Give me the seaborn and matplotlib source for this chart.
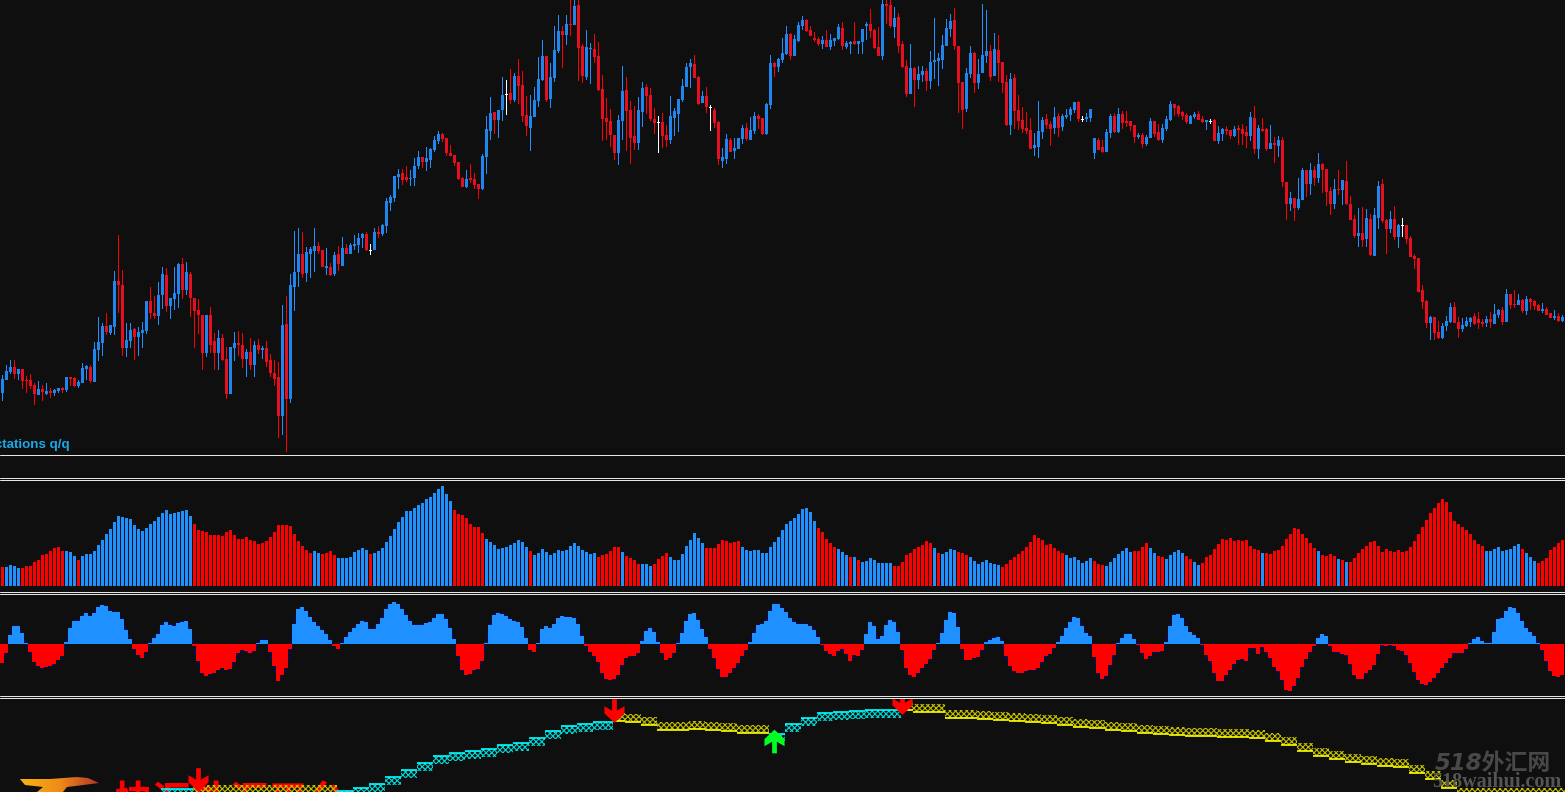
import numpy as np
import pandas as pd
import matplotlib
matplotlib.use("Agg")
import matplotlib.pyplot as plt
import seaborn as sns
from matplotlib.colors import LinearSegmentedColormap
from matplotlib.lines import Line2D
from matplotlib.patches import Polygon
from matplotlib.path import Path

# price levels (the scale runs downward, like the screen)
candle_high = [
    375,365,360,360,369,369,376,374,383,381, 385,383,388,389,388,387,377,377,377,380,
    363,365,365,342,317,323,313,325,271,235, 270,323,323,328,327,322,301,287,296,282,
    267,268,298,267,263,258,262,272,298,299, 315,315,307,333,330,334,347,347,332,331,
    333,349,338,341,339,346,341,354,360,362, 305,296,274,231,228,232,247,247,228,242,
    250,248,263,252,246,237,244,243,235,233, 233,232,244,228,226,224,198,195,176,169,
    169,166,170,158,151,157,147,148,136,131, 133,138,145,155,162,177,170,164,173,184,
    154,116,97,112,110,77,80,69,73,59, 71,96,95,87,57,40,56,63,26,15,
    26,15,0,0,0,44,30,43,34,42, 75,98,109,135,115,66,77,101,106,97,
    82,84,88,108,116,113,125,96,108,99, 79,63,59,55,76,91,87,105,108,121,
    148,134,138,138,138,125,123,117,112,114, 118,103,55,62,58,38,26,33,35,22,
    16,19,26,32,37,36,30,34,38,24, 22,41,41,22,41,29,22,9,29,27,
    0,0,0,7,13,41,60,44,67,66, 66,68,51,18,53,35,19,14,8,46,
    82,68,46,52,59,4,10,45,33,35, 62,75,73,74,95,107,112,118,133,101,
    117,114,121,107,113,114,109,107,102,101, 116,113,109,138,138,140,129,114,113,108,
    111,111,121,125,133,133,135,118,121,124, 124,116,101,104,105,111,113,115,112,111,
    116,120,119,119,126,128,126,130,126,125, 124,126,112,106,125,118,128,125,137,136,
    137,182,192,198,178,168,170,163,166,153, 163,169,187,179,170,180,161,196,215,208,
    207,209,214,208,181,179,219,211,206,224, 218,225,236,254,258,285,300,316,317,321,
    323,316,303,302,317,318,317,317,313,312, 319,316,312,304,309,307,289,294,290,294,
    299,296,298,300,304,303,307,313,310,313,315,
]
body_top = [
    379,371,367,367,369,369,380,380,385,389, 389,391,391,390,388,388,377,377,378,382,
    368,366,367,349,342,326,326,325,281,281, 285,340,330,329,332,330,301,301,313,295,
    274,275,298,293,264,264,272,274,298,310, 315,315,315,341,338,338,359,347,343,343,
    345,352,352,345,345,348,348,360,373,377, 325,324,285,272,254,254,252,249,246,246,
    250,266,267,255,254,248,248,245,244,238, 234,234,250,232,232,225,201,197,176,174,
    173,177,178,166,157,157,158,149,140,134, 134,138,153,155,162,178,179,178,179,184,
    156,129,113,112,110,95,94,93,76,76, 85,115,116,100,79,56,56,77,50,31,
    31,24,24,6,5,46,47,48,49,56, 89,118,121,135,120,91,90,110,136,110,
    88,87,95,119,122,122,135,116,111,99, 86,67,63,64,77,96,96,107,110,122,
    157,139,140,148,138,128,128,130,116,116, 118,104,63,63,59,53,34,34,39,25,
    20,20,30,38,39,40,40,40,38,27, 28,43,42,41,41,29,24,24,30,47,
    4,4,5,18,17,44,66,68,68,74, 71,71,62,60,58,45,28,21,20,46,
    82,73,53,53,74,55,51,51,49,50, 62,82,79,78,110,120,128,130,145,131,
    120,119,124,117,116,116,115,109,102,102, 119,117,109,138,140,147,132,116,116,114,
    114,121,121,125,135,135,137,121,121,132, 128,119,104,104,106,112,115,116,114,114,
    119,120,121,120,133,129,129,130,129,128, 129,132,117,118,128,129,129,143,143,140,
    140,182,198,198,199,170,170,170,170,164, 164,169,191,189,189,180,181,204,219,233,
    233,218,219,215,186,184,220,219,219,225, 225,225,238,256,258,290,301,317,317,332,
    326,321,307,307,322,325,321,318,316,319, 322,319,319,314,310,310,294,294,304,300,
    300,299,299,301,305,309,309,313,316,316,317,
]
body_bottom = [
    393,380,372,374,374,381,381,386,394,395, 392,394,393,393,391,390,390,379,386,386,
    383,369,381,382,350,343,332,333,327,285, 348,348,341,337,337,333,331,313,316,316,
    295,306,306,299,294,290,290,298,311,315, 353,353,345,353,353,360,394,394,348,345,
    359,359,365,365,350,350,362,373,379,416, 416,399,399,287,272,274,273,254,251,251,
    267,268,275,274,264,266,254,254,246,245, 238,250,250,250,234,234,226,203,198,177,
    180,180,179,178,166,162,162,160,150,141, 139,153,156,163,179,187,187,180,185,189,
    189,157,131,120,120,110,94,100,100,86, 116,126,128,117,101,80,100,99,78,51,
    35,35,25,25,48,76,77,49,57,90, 119,122,135,153,153,121,111,138,143,143,
    112,96,119,123,122,136,140,140,118,114, 100,87,67,78,104,103,107,107,123,159,
    161,159,152,151,149,139,139,140,131,119, 134,134,105,67,67,60,54,56,56,41,
    26,31,36,40,44,44,47,47,41,39, 46,47,44,44,44,42,26,31,48,56,
    56,6,26,27,46,67,94,94,80,80, 75,81,81,62,61,60,46,29,46,83,
    110,109,74,83,83,73,56,77,76,63, 83,125,125,111,121,129,131,149,148,147,
    132,125,129,128,128,127,117,115,110,119, 119,119,118,153,150,152,152,133,132,132,
    123,123,126,137,137,144,144,138,134,140, 140,129,120,108,114,116,122,124,117,120,
    122,122,121,141,141,134,131,136,136,130, 134,136,136,149,149,131,149,149,145,146,
    182,204,204,208,208,200,184,184,178,178, 170,192,204,204,190,190,204,220,236,236,
    240,239,255,256,218,221,229,229,237,237, 225,239,257,259,292,302,323,323,333,338,
    338,326,322,323,329,329,326,322,324,323, 324,323,322,324,315,322,322,305,305,305,
    311,311,302,306,311,311,315,318,318,321,321,
]
candle_low = [
    401,380,374,379,380,389,393,389,405,395, 401,395,398,396,393,393,392,386,387,388,
    383,380,383,382,361,356,335,335,335,313, 356,357,348,360,356,348,334,319,319,325,
    309,312,319,310,308,299,295,317,348,334, 370,357,353,370,370,361,399,394,361,356,
    368,377,370,377,354,359,367,377,386,438, 435,452,403,311,287,278,282,278,272,254,
    267,275,276,276,271,266,254,254,250,253, 248,251,255,250,238,236,233,211,202,189,
    185,182,186,186,169,168,171,168,152,144, 142,156,156,166,180,187,188,183,189,199,
    190,174,140,134,138,121,115,104,102,104, 122,136,151,117,107,81,102,108,82,53,
    68,45,36,25,81,83,80,84,63,91, 141,140,147,160,165,140,151,164,150,150,
    127,114,121,134,153,148,147,144,136,132, 102,87,88,78,105,103,113,131,128,165,
    168,164,152,159,149,144,141,140,134,129, 135,135,109,77,72,63,55,60,56,42,
    30,32,36,42,46,49,47,50,46,40, 50,49,54,45,54,54,40,38,49,56,
    60,24,28,38,53,68,97,94,107,89, 82,91,89,79,86,69,46,37,50,113,
    129,112,78,93,89,73,63,81,76,82, 93,126,135,129,130,133,134,149,156,158,
    139,129,146,134,137,131,119,121,113,122, 122,122,122,159,150,153,152,138,133,133,
    129,127,131,143,139,148,146,138,137,141, 143,131,121,116,117,120,124,124,119,120,
    123,130,124,141,144,141,135,139,137,145, 145,148,141,154,159,132,151,149,163,157,
    187,220,211,221,210,200,197,195,186,183, 193,206,215,209,195,205,205,220,238,247,
    247,247,256,256,229,223,254,233,240,248, 237,244,257,269,292,309,328,340,340,339,
    339,331,323,323,338,332,327,327,325,329, 327,327,328,324,318,325,322,309,308,305,
    313,315,310,310,311,313,315,318,320,322,322,
]
# b = up, r = down, w = doji
candle_side = (
    "bbbrbrrrrb" "rbrbbrbrrb" "bbrbbbrbbr" "rbbrbbbrrb" "brbbbrbrrr" "rbrrbrrbbr" "rbrbrbrrrr" "brbbbrbbbr"
    "rbrbrbrbbb" "brwbrbbbbb" "rrbbbrbbbb" "rrrrrrbrrr" "bbbrbbwrbr" "rrbbbbrbbb" "rbrbrrbbrr" "rrrrbbrrrb"
    "brrrwrrbbb" "bbbrrbrwrr" "bbrbbbrbbr" "rbbrbbbrbb" "brrrrbrbbb" "rbbrbbbrrr" "brrbrrrbrb" "brbbbbbbrr"
    "rbbrbbbrbr" "rrbrrrrrbb" "brrbrbbbbr" "wbbbrrbbrb" "rrrrbrbbrr" "bbbrrrrbbr" "rbwrbbrrbr" "rrbrbrrbrb"
    "rrbrbbrbrb" "rrrbrbrrrb" "rbrbbrrbrb" "wrrrrrrbrr" "bbbrrbbbrr" "rbrbbrbrrb" "rbrrrbrrbrb"
)

volume = [
    19,19,21,20,18,18,20,20,24,26, 31,32,35,38,39,35,35,34,30,26, 30,32,32,35,41,46,52,57,64,70,
    69,68,67,61,57,55,58,62,65,69, 73,76,72,73,74,75,76,70,62,56, 55,54,51,51,51,50,54,56,51,47,
    47,49,46,45,42,43,45,49,54,61, 61,61,60,52,45,40,36,33,35,33,
    32,33,35,31,28,28,28,29,34,36, 38,36,32,33,35,38,44,50,57,64, 69,75,75,78,81,83,87,89,93,97,
    100,92,85,76,72,71,68,62,59,59, 53,47,44,41,37,38,39,41,43,46, 44,39,35,31,33,37,34,31,33,36,
    35,36,40,43,40,36,34,32,33,29, 31,32,35,39,39,34,30,28,26,22, 22,22,20,22,27,30,33,29,26,26,
    32,40,46,53,48,43,38,38,38,42, 46,45,43,44,45,
    39,36,35,36,36,33,33,39,44,49, 56,62,65,68,72,77,78,74,65,58, 54,47,43,39,37,34,31,29,29,26,
    24,25,28,26,23,23,23,23,20,20, 24,31,33,37,39,41,45,43,38,33, 32,34,37,36,34,33,31,29,25,22,
    24,26,23,22,21,19,22,26,29,32, 35,39,44,51,48,46,41,42,38,35, 33,31,28,29,26,23,25,28,25,22,
    21,20,24,28,32,35,38,34,35,35, 39,43,38,33,30,
    29,27,31,34,36,33,30,27,24,21, 23,29,31,37,42,47,46,48,45,46, 45,46,40,37,36,33,33,32,35,36,
    40,47,52,58,57,52,48,43,38,35, 31,30,32,30,27,26,24,24,28,33, 37,40,44,45,40,34,37,35,34,36,
    34,35,39,45,52,59,66,73,78,83, 87,84,74,65,62,59,56,52,46,42, 40,35,35,37,39,35,36,37,40,42,
    37,33,29,25,23,25,28,36,39,43, 46,
]
volume_side = (
    "r" + "b" * 4 + "r" * 11 + "b" * 3 + "r" + "b" * 28 + "r" * 30 + "b" * 2
    + "r" * 4 + "b" * 8 + "r" + "b" * 20 + "r" * 8 + "b" * 11 + "r" + "b" * 16 + "r" * 6 + "b"
    + "r" * 4 + "b" * 3 + "r" * 4 + "b" * 9 + "r" * 9
    + "b" * 19 + "r" * 5 + "b" * 3 + "r" + "b" + "r" + "b" * 8 + "r" * 10 + "b" + "r" + "b" * 4
    + "r" * 3 + "b" * 8 + "r" * 16 + "b" * 7 + "r" * 3 + "b" * 7 + "r" * 4 + "b" * 2 + "r"
    + "r" + "b" * 5 + "r" * 2 + "b" * 2 + "r" * 15 + "b" + "r" * 13 + "b" + "r" * 4 + "b" + "r"
    + "b" + "r" * 34 + "b" * 9 + "r" + "b" * 3 + "r" * 7
)

oscillator = [
    -19,-9,9,18,18,11,1,-8,-18,-22, -24,-23,-22,-20,-16,-12,2,16,23,23, 28,31,28,31,37,39,38,33,32,32,
    25,14,5,-5,-11,-14,-8,1,6,10, 19,22,19,18,21,22,23,15,-2,-17, -29,-32,-30,-29,-26,-24,-26,-25,-18,-9,
    -6,-7,-9,-7,1,4,4,-8,-22,-37, -31,-24,-5,20,35,37,33,27,22,18, 14,10,4,-2,-5,1,7,12,16,20,
    23,22,15,15,20,26,35,40,42,40, 35,29,23,19,19,19,21,22,26,30, 30,25,16,5,-12,-26,-31,-30,-26,-25,
    -17,1,19,29,31,30,28,25,23,22, 17,6,-6,-8,1,15,18,16,20,26, 28,27,27,26,20,8,-2,-8,-12,-18,
    -29,-35,-36,-35,-31,-21,-14,-12,-12,-9, 3,13,16,12,2,-9,-16,-14,-9,1, 11,23,30,31,24,15,7,-5,-14,-25,
    -33,-33,-29,-24,-19,-12,-6,2,11,19, 20,23,33,40,40,36,32,26,22,20, 20,20,18,14,7,-1,-7,-10,-12,-7,
    -5,-10,-17,-11,-12,-6,10,22,18,5, 8,19,24,22,12,-6,-24,-31,-33,-29, -24,-20,-15,-6,1,11,24,32,31,17,
    -5,-16,-16,-14,-13,-6,2,4,6,7, 3,-12,-22,-27,-29,-29,-27,-26,-26,-24, -18,-12,-10,-4,2,8,16,22,27,26,
    18,11,8,-13,-29,-35,-32,-21,-11,1, 6,10,10,5,-1,-9,-15,-12,-8,-8, -7,2,18,29,30,26,18,12,9,6,
    -1,-11,-17,-29,-37,-37,-31,-26,-20,-16, -15,-17,-4,-4,-10,-3,-8,-14,-23,-27, -36,-46,-47,-42,-34,-23,-15,-8,-2,6,
    10,8,-2,-8,-8,-10,-11,-20,-31,-35, -35,-29,-26,-21,-10,-1,-2,-1,-2,-6, -7,-11,-19,-28,-36,-40,-41,-38,-34,-29,
    -24,-19,-14,-9,-9,-9,-5,1,5,7, 3,1,1,12,25,26,33,37,36,31, 23,16,12,8,1,-6,-17,-27,-32,-33,-31,
]

# trend band: first bar of each step, its level, its direction
trend_start = [40, 48, 84, 88, 92, 96, 100, 104, 108, 112, 116, 120, 124, 128, 132, 136, 140, 144, 148,
               153, 156, 160, 164, 168, 172, 176, 180, 184, 188,
               192, 196, 200, 204, 208, 212, 216, 220,
               225, 228, 232, 236, 240, 244, 248, 252, 256, 260, 264, 268, 272, 276, 280, 284, 288, 292, 296,
               300, 304, 308, 312, 316, 320, 324, 328, 332, 336, 340, 344, 348, 352, 356, 360, 364]
trend_end_bar = 391
trend_level = [789, 793, 791, 788, 784, 777, 770, 763, 756, 753, 751, 749, 745, 743, 738, 731, 726, 724, 722,
               721, 722, 725, 729.5, 729.5, 728.5, 729.5, 731, 732.5, 732.5,
               734, 724, 718, 713, 712, 711, 709.5, 709.5,
               710, 712, 712, 718, 718, 719, 720, 721, 722, 723, 725, 727, 728, 730, 731, 733, 734, 735, 736,
               736, 737, 737, 738, 741, 745, 751, 756, 759, 762, 764, 766, 767, 773, 779, 788, 796]
trend_side = ["b", "y"] + ["b"] * 17 + ["y"] * 10 + ["b"] * 8 + ["y"] * 36

arrow_bar = [49, 153, 225]
arrow_level = [780, 711, 703]
up_arrow_bar = [193]
up_arrow_level = [741.5]

BG = "#0f0f0f"
WIDTH, HEIGHT = 1565, 792
BLUE = "#1e90ff"
RED = "#ff0000"
BODY_RED = "#e60f20"
BODY_BLUE = "#1e86ee"

sns.set_theme(style="dark", rc={"figure.facecolor": BG, "axes.facecolor": BG, "hatch.linewidth": 0.8})

fig = plt.figure(figsize=(WIDTH / 100, HEIGHT / 100), dpi=100)


def panel(top, bottom):
    ax = fig.add_axes([0, 1 - bottom / HEIGHT, 1, (bottom - top) / HEIGHT])
    ax.set_axis_off()
    return ax


ax_price = panel(0, 454)
ax_vol = panel(480, 586)
ax_osc = panel(594, 696)
ax_trend = panel(698, 792)

# candles: wick and body are both bars, so they land on whole pixels
bars = np.arange(len(candle_high))
candle_high = np.array(candle_high, dtype=float)
candle_low = np.array(candle_low, dtype=float)
body_top = np.array(body_top, dtype=float)
body_bottom = np.array(body_bottom, dtype=float)
body_colors = {"b": BODY_BLUE, "r": BODY_RED, "w": "#ffffff"}
wick_colors = {"b": BLUE, "r": RED, "w": "#ffffff"}
ax_price.bar(bars, candle_low - candle_high, bottom=candle_high, width=0.25,
             color=[wick_colors[s] for s in candle_side], linewidth=0, antialiased=False)
ax_price.bar(bars, np.maximum(body_bottom - body_top, 1), bottom=body_top, width=0.75,
             color=[body_colors[s] for s in candle_side], linewidth=0, antialiased=False)
ax_price.set_xlim(-0.625, 390.625)
ax_price.set_ylim(454, 0)

# volume histogram
vol_df = pd.DataFrame({"bar": bars, "volume": volume, "side": list(volume_side)})
sns.barplot(data=vol_df, x="bar", y="volume", hue="side", palette={"b": BLUE, "r": RED}, native_scale=True,
            width=0.75, dodge=False, saturation=1, linewidth=0, errorbar=None, legend=False, ax=ax_vol)
ax_vol.set_xlim(-0.625, 390.625)
ax_vol.set_ylim(0, 106)
ax_vol.set_axis_off()

# oscillator histogram with its signal line behind
osc_df = pd.DataFrame({"bar": bars, "value": oscillator})
osc_df["side"] = np.where(osc_df["value"] >= 0, "b", "r")
sns.lineplot(data=osc_df, x="bar", y="value", color="#0000ff", linewidth=1.0, linestyle=":", errorbar=None,
             zorder=0, ax=ax_osc)
sns.barplot(data=osc_df, x="bar", y="value", hue="side", palette={"b": BLUE, "r": RED}, native_scale=True,
            width=1.0, dodge=False, saturation=1, linewidth=0, errorbar=None, legend=False, ax=ax_osc)
ax_osc.set_xlim(-0.5, 390.75)
ax_osc.set_ylim(-52, 50)
ax_osc.set_axis_off()

# trend band
step_end = trend_start[1:] + [trend_end_bar]
for start, end, level, side in zip(trend_start, step_end, trend_level, trend_side):
    line_color = "#00ffff" if side == "b" else "#ffff00"
    hatch_color = "#00d8d8" if side == "b" else "#c0c000"
    band = 8 if side == "b" else -8
    ax_trend.bar((start + end) / 2 - 0.5, band, bottom=level, width=end - start, facecolor="none",
                 edgecolor=hatch_color, hatch="xxxxxx", linewidth=0, zorder=3)
    ax_trend.hlines(level, start - 0.5, end - 0.5, color=line_color, linewidth=1.2, zorder=4)

arrow_verts = [(-0.2, -1), (0.2, -1), (0.2, -0.02), (0.85, -0.4), (0.85, 0.2), (0, 1), (-0.85, 0.2), (-0.85, -0.4),
               (-0.2, -0.02), (-0.2, -1)]
up_arrow = Path(arrow_verts)
down_arrow = Path([(x, -y) for x, y in arrow_verts])
sns.scatterplot(x=arrow_bar, y=arrow_level, marker=down_arrow, s=290, color="#ff0000", edgecolor="none",
                linewidth=0, zorder=6, ax=ax_trend)
sns.scatterplot(x=up_arrow_bar, y=up_arrow_level, marker=up_arrow, s=290, color="#00ff22", edgecolor="none",
                linewidth=0, zorder=6, ax=ax_trend)
ax_trend.text(27.6, 783, "快汇外汇平台", color="#ff0000", fontsize=28, fontweight="bold", va="top", ha="left",
              family=["Noto Sans CJK SC", "DejaVu Sans"], clip_on=True, zorder=1)
ax_trend.set_xlim(-0.625, 390.625)
ax_trend.set_ylim(792, 698)
ax_trend.set_axis_off()

# flame logo, lower left
logo_ax = fig.add_axes([15 / WIDTH, 0, 90 / WIDTH, 20 / HEIGHT])
logo_ax.set_axis_off()
flame = logo_ax.imshow(np.linspace(0, 1, 64)[None, :], extent=(15, 105, 792, 772), aspect="auto",
                       cmap=LinearSegmentedColormap.from_list("flame", ["#f9b90f", "#f08a18", "#a82a2a"]))
flame.set_clip_path(Polygon([(20, 779), (50, 779), (77, 777), (88, 778), (99, 783), (67, 787), (63, 792), (37, 792),
                             (43, 787), (25, 785)], transform=logo_ax.transData))
logo_ax.set_xlim(15, 105)
logo_ax.set_ylim(792, 772)

# panel separators
for row in [454.5, 477.5, 479.5, 591.5, 593.5, 695.5, 697.5]:
    fig.add_artist(Line2D([0, 1], [1 - row / HEIGHT] * 2, color="#e6e6e6", linewidth=0.72))

fig.text(70 / WIDTH, 1 - 448 / HEIGHT, "Expectations q/q", color="#1aa8e6", fontsize=9.6, fontweight="bold",
         family="Liberation Sans", ha="right", va="baseline")
fig.text(1435 / WIDTH, 1 - 770 / HEIGHT, "518外汇网", color="#484848", fontsize=16.5, fontweight="bold",
         style="italic", family=["DejaVu Sans", "Noto Sans CJK SC"], ha="left", va="baseline")
fig.text(1432 / WIDTH, 1 - 787 / HEIGHT, "518waihui.com", color="#555555", fontsize=14.5, fontweight="bold",
         family="Liberation Serif", ha="left", va="baseline")

fig.savefig("out.png", dpi=100)
